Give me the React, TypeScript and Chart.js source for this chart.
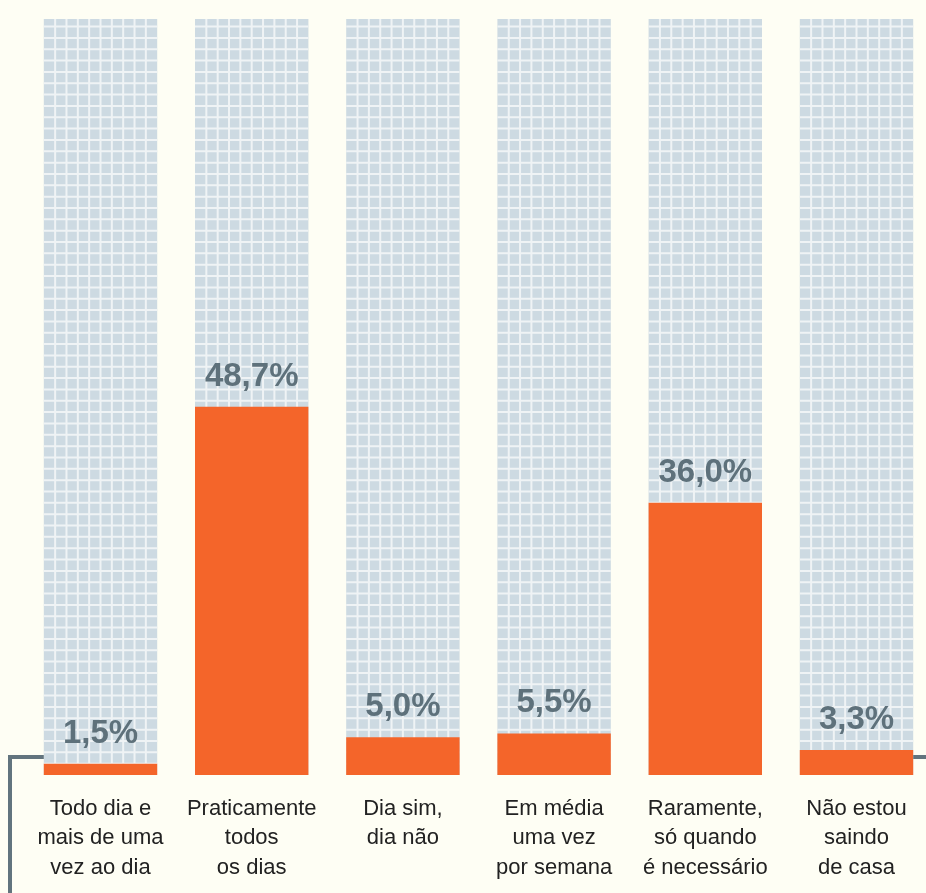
import React, { useEffect, useRef } from "react";
import { Chart, registerables } from "chart.js";

Chart.register(...registerables);

const categories: string[][] = [
  ["Todo dia e", "mais de uma", "vez ao dia"],
  ["Praticamente", "todos", "os dias"],
  ["Dia sim,", "dia não"],
  ["Em média", "uma vez", "por semana"],
  ["Raramente,", "só quando", "é necessário"],
  ["Não estou", "saindo", "de casa"],
];
const values: number[] = [1.5, 48.7, 5.0, 5.5, 36.0, 3.3];
const valueLabels: string[] = ["1,5%", "48,7%", "5,0%", "5,5%", "36,0%", "3,3%"];

const BG = "#fefef4";
const ORANGE = "#f4652a";
const GRID_BG = "#cddae2";
const GRID_LINE = "#eff3f5";
const LABEL_COLOR = "#5e717b";
const BRACKET = "#62747e";

const gridColumnsPlugin = {
  id: "gridColumns",
  beforeDatasetsDraw(chart: any) {
    const { ctx, chartArea } = chart;
    const meta = chart.getDatasetMeta(0);
    const yScale = chart.scales.y;
    const cell = Math.abs(yScale.getPixelForValue(0) - yScale.getPixelForValue(1.5));
    ctx.save();
    meta.data.forEach((bar: any) => {
      const w = bar.width;
      const left = bar.x - w / 2;
      const top = chartArea.top;
      const bottom = chartArea.bottom;
      ctx.fillStyle = GRID_BG;
      ctx.fillRect(left, top, w, bottom - top);
      ctx.strokeStyle = GRID_LINE;
      ctx.lineWidth = 2;
      ctx.beginPath();
      for (let j = 1; j < 10; j++) {
        const x = left + (w / 10) * j;
        ctx.moveTo(x, top);
        ctx.lineTo(x, bottom);
      }
      for (let y = bottom - cell; y > top; y -= cell) {
        ctx.moveTo(left, y);
        ctx.lineTo(left + w, y);
      }
      ctx.stroke();
    });
    ctx.restore();
  },
  afterDatasetsDraw(chart: any) {
    const { ctx, chartArea } = chart;
    const meta = chart.getDatasetMeta(0);
    ctx.save();
    ctx.fillStyle = LABEL_COLOR;
    ctx.font = "bold 33px 'Liberation Sans', Arial, sans-serif";
    ctx.textAlign = "center";
    ctx.textBaseline = "alphabetic";
    meta.data.forEach((bar: any, i: number) => {
      ctx.fillText(valueLabels[i], bar.x, bar.y - 21);
    });
    // bracket lines
    const first = meta.data[0];
    const last = meta.data[meta.data.length - 1];
    const yb = chartArea.bottom - 18;
    ctx.strokeStyle = BRACKET;
    ctx.lineWidth = 4;
    ctx.beginPath();
    ctx.moveTo(10, chart.height);
    ctx.lineTo(10, yb);
    ctx.lineTo(first.x - first.width / 2, yb);
    ctx.moveTo(last.x + last.width / 2, yb);
    ctx.lineTo(chart.width, yb);
    ctx.stroke();
    ctx.restore();
  },
};

const bgPlugin = {
  id: "bgFill",
  beforeDraw(chart: any) {
    const { ctx } = chart;
    ctx.save();
    ctx.fillStyle = BG;
    ctx.fillRect(0, 0, chart.width, chart.height);
    ctx.restore();
  },
};

export default function App() {
  const ref = useRef<HTMLCanvasElement | null>(null);
  useEffect(() => {
    if (!ref.current) return;
    const chart = new Chart(ref.current, {
      type: "bar",
      data: {
        labels: categories,
        datasets: [
          {
            data: values,
            backgroundColor: ORANGE,
            borderWidth: 0,
            barPercentage: 0.75,
            categoryPercentage: 1,
            clip: false as any,
          },
        ],
      },
      options: {
        animation: false,
        responsive: false,
        maintainAspectRatio: false,
        devicePixelRatio: 1,
        layout: { padding: { left: 100.5, right: 69.5, top: 19, bottom: 0 } },
        plugins: { legend: { display: false }, tooltip: { enabled: false } },
        scales: {
          x: {
            offset: false,
            grid: { display: false, drawTicks: false },
            border: { display: false },
            afterFit: (scale: any) => {
              scale.height = 118;
            },
            ticks: {
              color: "#222222",
              padding: 19,
              maxRotation: 0,
              autoSkip: false,
              font: { family: "'Liberation Sans', Arial, sans-serif", size: 22, lineHeight: 1.34 },
            },
          },
          y: { display: false, min: 0, max: 100 },
        },
      },
      plugins: [bgPlugin, gridColumnsPlugin],
    });
    return () => chart.destroy();
  }, []);
  return (
    <div style={{ position: "fixed", left: 0, top: 0, width: 926, height: 893, background: BG }}>
      <canvas ref={ref} width={926} height={893} style={{ display: "block" }} />
    </div>
  );
}
